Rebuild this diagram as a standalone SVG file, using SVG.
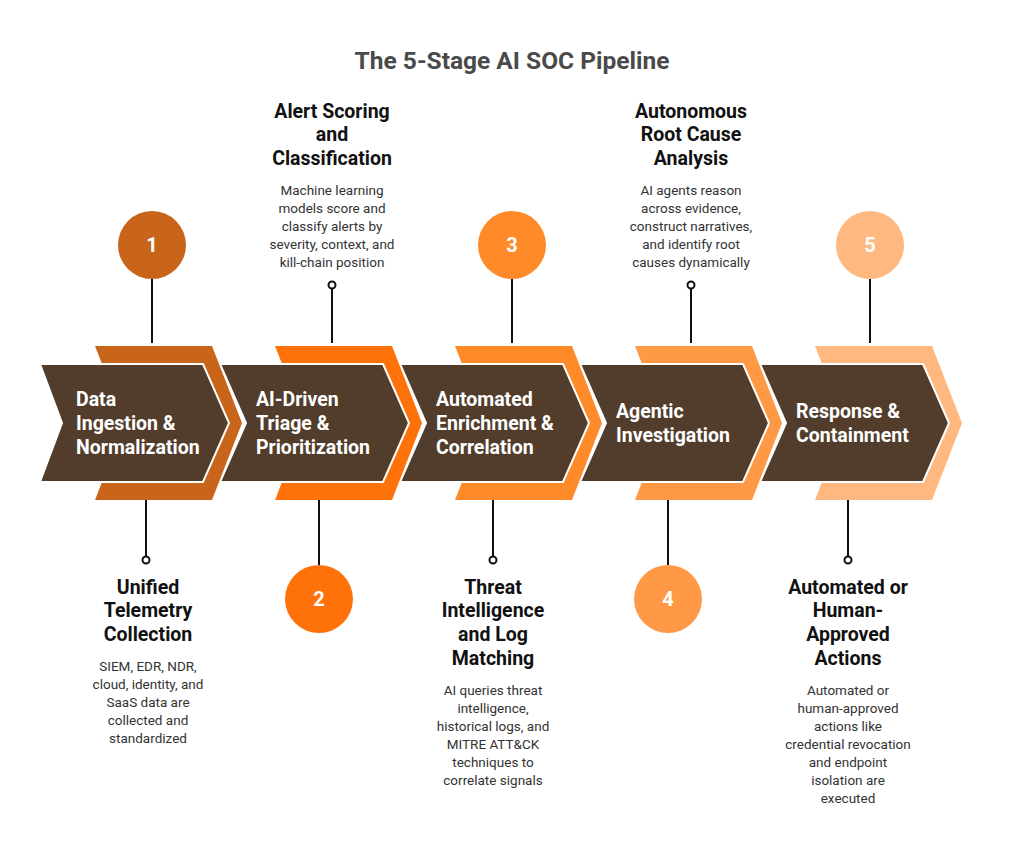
<svg xmlns="http://www.w3.org/2000/svg" width="1024" height="852" viewBox="0 0 1024 852">
<style>
.t{font-family:Roboto,"Liberation Sans",sans-serif;font-weight:bold;font-size:24.5px;fill:#4a4a4a;text-anchor:middle}
.h{font-family:Roboto,"Liberation Sans",sans-serif;font-weight:bold;font-size:19.5px;fill:#111;text-anchor:middle}
.b{font-family:Roboto,"Liberation Sans",sans-serif;font-size:13.5px;fill:#333;text-anchor:middle}
.c{font-family:Roboto,"Liberation Sans",sans-serif;font-weight:bold;font-size:19.5px;fill:#fff}
.n{font-family:Roboto,"Liberation Sans",sans-serif;font-weight:bold;font-size:20px;fill:#fff;text-anchor:middle}
.br{fill:#523D2C;stroke:#fff;stroke-width:2}
.ln{stroke:#111;stroke-width:2;fill:none}
.dot{fill:#fff;stroke:#111;stroke-width:2}
</style>
<rect width="1024" height="852" fill="#fff"/>
<text class="t" x="512" y="69">The 5-Stage AI SOC Pipeline</text>
<g id="connectors">
<path class="ln" d="M152 279V343M332 289V343M512 279V343M691 289V343M870 279V343M146 500V556M319 500V565M493 500V556M668 500V565M848 500V556"/>
<circle class="dot" cx="332" cy="285" r="3.5"/><circle class="dot" cx="691" cy="285" r="3.5"/>
<circle class="dot" cx="146" cy="560" r="3.5"/><circle class="dot" cx="493" cy="560" r="3.5"/><circle class="dot" cx="848" cy="560" r="3.5"/>
</g>
<g id="stage5">
<path fill="#FFB980" d="M815 346H932L962 423L932 500H815L845 423Z"/>
<path class="br" d="M760 364H923L949 423L923 482H760L786 423Z"/>
<text class="c" x="796" y="418">Response &amp;</text><text class="c" x="796" y="442">Containment</text>
<circle cx="870" cy="245" r="34" fill="#FFB980"/><text class="n" x="870" y="252">5</text>
<text class="h" x="848" y="594">Automated or</text><text class="h" x="848" y="617">Human-</text><text class="h" x="848" y="641">Approved</text><text class="h" x="848" y="665">Actions</text>
<text class="b"><tspan x="848" y="695">Automated or</tspan><tspan x="848" y="713">human-approved</tspan><tspan x="848" y="731">actions like</tspan><tspan x="848" y="749">credential revocation</tspan><tspan x="848" y="767">and endpoint</tspan><tspan x="848" y="785">isolation are</tspan><tspan x="848" y="803">executed</tspan></text>
</g>
<g id="stage4">
<path fill="#FF9945" d="M635 346H752L782 423L752 500H635L665 423Z"/>
<path class="br" d="M580 364H743L769 423L743 482H580L606 423Z"/>
<text class="c" x="616" y="418">Agentic</text><text class="c" x="616" y="442">Investigation</text>
<circle cx="668" cy="599" r="34" fill="#FF9945"/><text class="n" x="668" y="606">4</text>
<text class="h" x="691" y="118">Autonomous</text><text class="h" x="691" y="141">Root Cause</text><text class="h" x="691" y="165">Analysis</text>
<text class="b"><tspan x="691" y="195">AI agents reason</tspan><tspan x="691" y="213">across evidence,</tspan><tspan x="691" y="231">construct narratives,</tspan><tspan x="691" y="249">and identify root</tspan><tspan x="691" y="267">causes dynamically</tspan></text>
</g>
<g id="stage3">
<path fill="#FF8A2A" d="M455 346H572L602 423L572 500H455L485 423Z"/>
<path class="br" d="M400 364H563L589 423L563 482H400L426 423Z"/>
<text class="c" x="436" y="406">Automated</text><text class="c" x="436" y="430">Enrichment &amp;</text><text class="c" x="436" y="454">Correlation</text>
<circle cx="512" cy="245" r="34" fill="#FF8A2A"/><text class="n" x="512" y="252">3</text>
<text class="h" x="493" y="594">Threat</text><text class="h" x="493" y="617">Intelligence</text><text class="h" x="493" y="641">and Log</text><text class="h" x="493" y="665">Matching</text>
<text class="b"><tspan x="493" y="695">AI queries threat</tspan><tspan x="493" y="713">intelligence,</tspan><tspan x="493" y="731">historical logs, and</tspan><tspan x="493" y="749">MITRE ATT&amp;CK</tspan><tspan x="493" y="767">techniques to</tspan><tspan x="493" y="785">correlate signals</tspan></text>
</g>
<g id="stage2">
<path fill="#FF7209" d="M275 346H392L422 423L392 500H275L305 423Z"/>
<path class="br" d="M220 364H383L409 423L383 482H220L246 423Z"/>
<text class="c" x="256" y="406">AI-Driven</text><text class="c" x="256" y="430">Triage &amp;</text><text class="c" x="256" y="454">Prioritization</text>
<circle cx="319" cy="599" r="34" fill="#FF7209"/><text class="n" x="319" y="606">2</text>
<text class="h" x="332" y="118">Alert Scoring</text><text class="h" x="332" y="141">and</text><text class="h" x="332" y="165">Classification</text>
<text class="b"><tspan x="332" y="195">Machine learning</tspan><tspan x="332" y="213">models score and</tspan><tspan x="332" y="231">classify alerts by</tspan><tspan x="332" y="249">severity, context, and</tspan><tspan x="332" y="267">kill-chain position</tspan></text>
</g>
<g id="stage1">
<path fill="#C8651B" d="M95 346H212L242 423L212 500H95L125 423Z"/>
<path class="br" d="M40 364H203L229 423L203 482H40L62 423Z"/>
<text class="c" x="76" y="406">Data</text><text class="c" x="76" y="430">Ingestion &amp;</text><text class="c" x="76" y="454">Normalization</text>
<circle cx="152" cy="245" r="34" fill="#C8651B"/><text class="n" x="152" y="252">1</text>
<text class="h" x="148" y="594">Unified</text><text class="h" x="148" y="617">Telemetry</text><text class="h" x="148" y="641">Collection</text>
<text class="b"><tspan x="148" y="671">SIEM, EDR, NDR,</tspan><tspan x="148" y="689">cloud, identity, and</tspan><tspan x="148" y="707">SaaS data are</tspan><tspan x="148" y="725">collected and</tspan><tspan x="148" y="743">standardized</tspan></text>
</g>
</svg>
